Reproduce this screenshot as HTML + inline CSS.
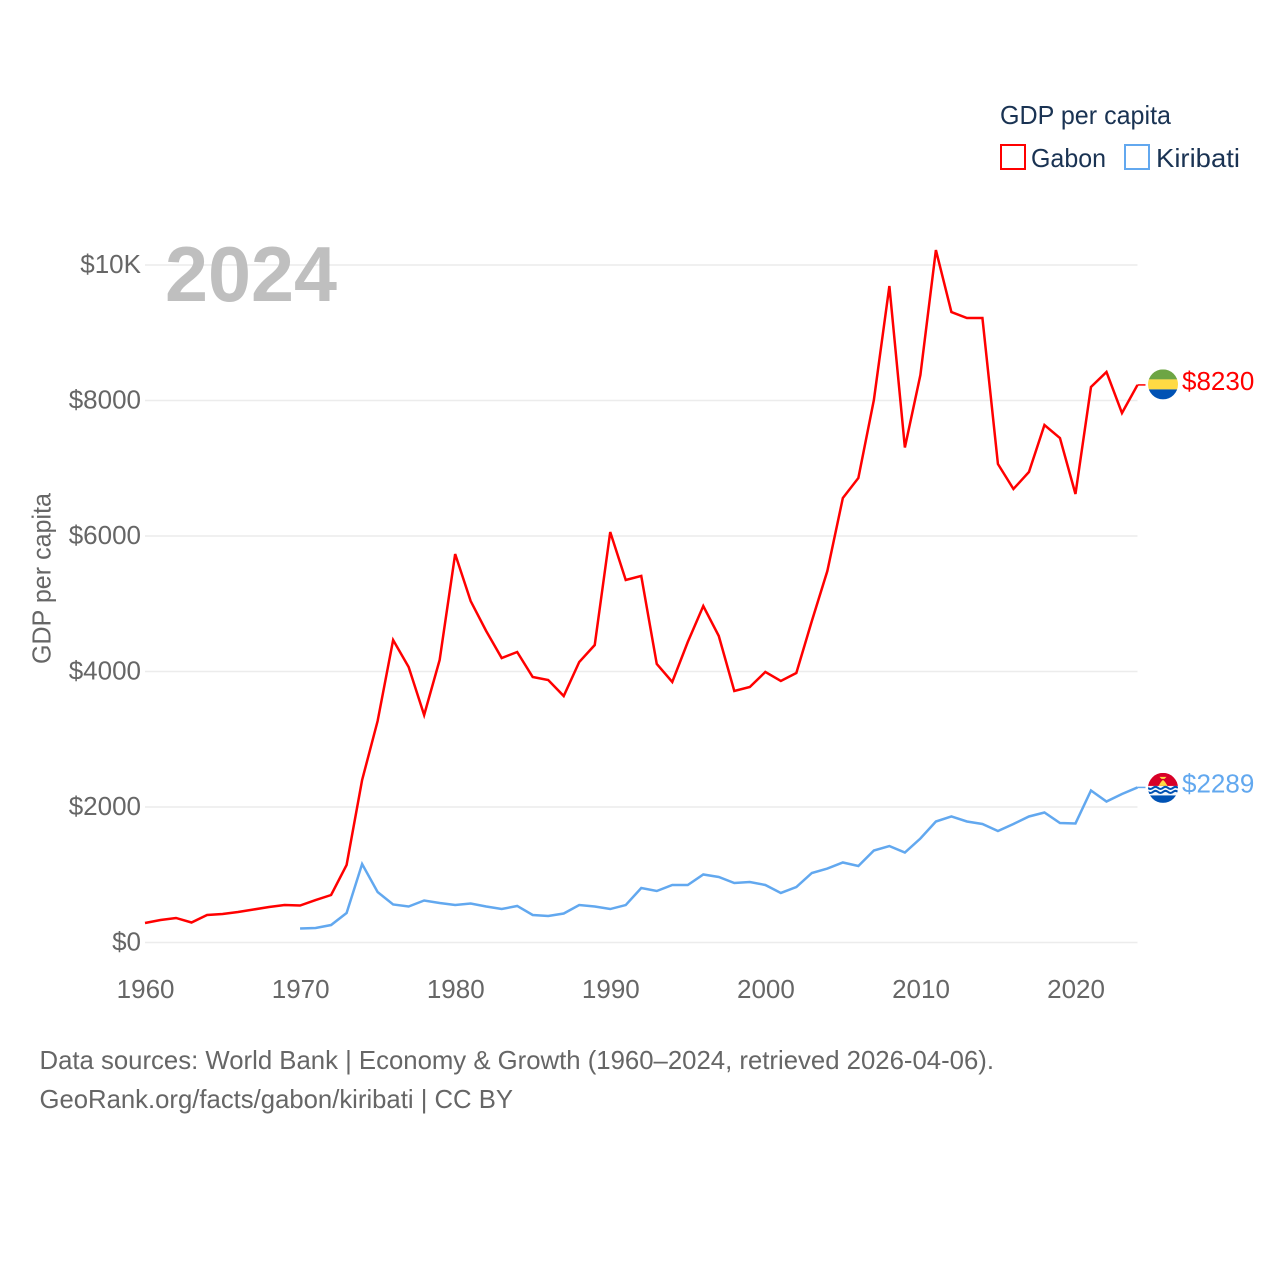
<!DOCTYPE html>
<html lang="en">
<head>
<meta charset="utf-8">
<title>GDP per capita: Gabon and Kiribati</title>
<style>
  html, body { margin: 0; padding: 0; background: #fff; }
  svg { display: block; }
  text { font-family: "Liberation Sans", sans-serif; }
</style>
</head>
<body>
<svg id="chart" xmlns="http://www.w3.org/2000/svg" width="1280" height="1280" viewBox="0 0 1280 1280">
  <defs>
    <clipPath id="flag-clip"><circle cx="0" cy="0" r="15"></circle></clipPath>
  </defs>
  <g id="grid"></g>
  <text x="165" y="301" font-size="78" font-weight="700" fill="#bfbfbf" textLength="172" lengthAdjust="spacingAndGlyphs">2024</text>
  <g id="yticks"></g>
  <g id="xticks"></g>
  <text transform="translate(50.5,578.5) rotate(-90)" text-anchor="middle" font-size="26" fill="#666666" textLength="171" lengthAdjust="spacingAndGlyphs">GDP per capita</text>
  <g id="series"></g>
  <g id="flag-gabon">
    <g clip-path="url(#flag-clip)">
      <rect x="-15" y="-15" width="30" height="10" fill="#6DA544"></rect>
      <rect x="-15" y="-5" width="30" height="10" fill="#FFDA44"></rect>
      <rect x="-15" y="5" width="30" height="10" fill="#0052B4"></rect>
    </g>
  </g>
  <g id="flag-kiribati">
    <g clip-path="url(#flag-clip)">
      <rect x="-15" y="-15" width="30" height="15" fill="#D80027"></rect>
      <rect x="-15" y="-2" width="30" height="17" fill="#F4F8FC"></rect>
      <path d="M-4.5,-2 L-2,-6 L0,-8 L2,-6 L4.5,-2 Z" fill="#FFDA44"></path>
      <path d="M-3.5,-11 L3.5,-11 L1.5,-9 L-1.5,-9 Z" fill="#FFDA44"></path>
      <path d="M-15,0 q2.5,2.2 5,0 t5,0 t5,0 t5,0 t5,0 t5,0" fill="none" stroke="#0052B4" stroke-width="2"></path>
      <path d="M-15,4 q2.5,2.2 5,0 t5,0 t5,0 t5,0 t5,0 t5,0" fill="none" stroke="#0052B4" stroke-width="2"></path>
      <rect x="-15" y="7.5" width="30" height="7.5" fill="#0052B4"></rect>
    </g>
  </g>
  <text id="label-gabon" x="1182" font-size="26" fill="#ff0000"></text>
  <text id="label-kiribati" x="1182" font-size="26" fill="#62a8ef"></text>

  <g>
    <text x="1000" y="124" font-size="26" fill="#1a3353" textLength="171" lengthAdjust="spacingAndGlyphs">GDP per capita</text>
    <g>
      <rect x="1001" y="145" width="24" height="24" fill="none" stroke="#ff0000" stroke-width="2"></rect>
      <text x="1031" y="167" font-size="26" fill="#1a3353" textLength="75" lengthAdjust="spacingAndGlyphs">Gabon</text>
    </g>
    <g>
      <rect x="1125" y="145" width="24" height="24" fill="none" stroke="#62a8ef" stroke-width="2"></rect>
      <text x="1156" y="167" font-size="26" fill="#1a3353" textLength="84" lengthAdjust="spacingAndGlyphs">Kiribati</text>
    </g>
  </g>

  <text x="39.5" y="1069" font-size="26" fill="#666666" textLength="954.5" lengthAdjust="spacingAndGlyphs">Data sources: World Bank | Economy &amp; Growth (1960–2024, retrieved 2026-04-06).</text>
  <text x="39.5" y="1108" font-size="26" fill="#666666" textLength="473.5" lengthAdjust="spacingAndGlyphs">GeoRank.org/facts/gabon/kiribati | CC BY</text>
</svg>
<script>
const gabonYears = [1960,1961,1962,1963,1964,1965,1966,1967,1968,1969,1970,1971,1972,1973,1974,1975,1976,1977,1978,1979,1980,1981,1982,1983,1984,1985,1986,1987,1988,1989,1990,1991,1992,1993,1994,1995,1996,1997,1998,1999,2000,2001,2002,2003,2004,2005,2006,2007,2008,2009,2010,2011,2012,2013,2014,2015,2016,2017,2018,2019,2020,2021,2022,2023,2024];
const gabonValues = [288,332,362,295,406,420,450,487,524,553,546,627,701,1144,2398,3269,4465,4066,3358,4170,5734,5040,4598,4199,4288,3919,3875,3638,4140,4391,6059,5351,5410,4111,3845,4435,4967,4524,3712,3771,3993,3860,3978,4745,5483,6561,6856,8007,9690,7306,8376,10221,9306,9218,9218,7063,6694,6945,7638,7446,6620,8199,8421,7815,8230];
const kiribatiYears = [1970,1971,1972,1973,1974,1975,1976,1977,1978,1979,1980,1981,1982,1983,1984,1985,1986,1987,1988,1989,1990,1991,1992,1993,1994,1995,1996,1997,1998,1999,2000,2001,2002,2003,2004,2005,2006,2007,2008,2009,2010,2011,2012,2013,2014,2015,2016,2017,2018,2019,2020,2021,2022,2023,2024];
const kiribatiValues = [207,214,258,435,1159,745,561,531,620,583,553,576,531,494,539,406,391,428,553,531,494,553,804,760,849,849,1004,967,878,893,849,731,819,1026,1092,1181,1129,1358,1424,1328,1535,1786,1860,1786,1749,1646,1749,1860,1919,1764,1757,2244,2081,2192,2289];
const yTickValues = [0,2000,4000,6000,8000,10000];
const yTickLabels = ["$0","$2000","$4000","$6000","$8000","$10K"];
const xTickValues = [1960,1970,1980,1990,2000,2010,2020];
const xTickLabels = ["1960","1970","1980","1990","2000","2010","2020"];

const NS = "http://www.w3.org/2000/svg";
const xScale = function (year) { return 145 + (year - 1960) * (1137.5 - 145) / 64; };
const yScale = function (value) { return 942.5 - value * (942.5 - 265) / 10000; };

const gridGroup = document.getElementById("grid");
const yTickGroup = document.getElementById("yticks");
yTickValues.forEach(function (value, i) {
  const line = document.createElementNS(NS, "line");
  
  
  line.setAttribute("x1", 145);
  line.setAttribute("x2", 1137.5);
  line.setAttribute("y1", yScale(value));
  line.setAttribute("y2", yScale(value));
  line.setAttribute("stroke", "#ececec");
  line.setAttribute("stroke-width", "1.5");
  gridGroup.appendChild(line);

  const label = document.createElementNS(NS, "text");
  
  
  label.setAttribute("x", 141);
  label.setAttribute("y", yScale(value) + 8);
  label.setAttribute("text-anchor", "end");
  label.setAttribute("font-size", "26");
  label.setAttribute("fill", "#666666");
  label.textContent = yTickLabels[i];
  yTickGroup.appendChild(label);
});

const xTickGroup = document.getElementById("xticks");
xTickValues.forEach(function (year, i) {
  const label = document.createElementNS(NS, "text");
  
  
  label.setAttribute("x", xScale(year) + 0.6);
  label.setAttribute("y", 998);
  label.setAttribute("text-anchor", "middle");
  label.setAttribute("font-size", "26");
  label.setAttribute("fill", "#666666");
  label.textContent = xTickLabels[i];
  xTickGroup.appendChild(label);
});

const seriesGroup = document.getElementById("series");
function drawSeries(years, values, color, lineName, connectorName) {
  const pts = years.map(function (year, i) {
    return xScale(year).toFixed(2) + "," + yScale(values[i]).toFixed(2);
  });
  const poly = document.createElementNS(NS, "polyline");
  
  
  poly.setAttribute("points", pts.join(" "));
  poly.setAttribute("fill", "none");
  poly.setAttribute("stroke", color);
  poly.setAttribute("stroke-width", "2.5");
  poly.setAttribute("stroke-linejoin", "miter");
  seriesGroup.appendChild(poly);

  const lastX = xScale(years[years.length - 1]);
  const lastY = yScale(values[values.length - 1]);
  const connector = document.createElementNS(NS, "line");
  
  
  connector.setAttribute("x1", lastX);
  connector.setAttribute("x2", lastX + 8);
  connector.setAttribute("y1", lastY);
  connector.setAttribute("y2", lastY);
  connector.setAttribute("stroke", color);
  connector.setAttribute("stroke-width", "1.5");
  seriesGroup.appendChild(connector);
  return lastY;
}
const gabonEndY = drawSeries(gabonYears, gabonValues, "#ff0000", "gabon-line", "gabon-label-connector");
const kiribatiEndY = drawSeries(kiribatiYears, kiribatiValues, "#62a8ef", "kiribati-line", "kiribati-label-connector");

document.getElementById("flag-gabon").setAttribute("transform", "translate(1163," + (gabonEndY - 0.5) + ")");
document.getElementById("flag-kiribati").setAttribute("transform", "translate(1163," + (kiribatiEndY + 0.5) + ")");
const gabonLabel = document.getElementById("label-gabon");
gabonLabel.setAttribute("y", gabonEndY + 5);
gabonLabel.textContent = "$" + gabonValues[gabonValues.length - 1];
const kiribatiLabel = document.getElementById("label-kiribati");
kiribatiLabel.setAttribute("y", kiribatiEndY + 5);
kiribatiLabel.textContent = "$" + kiribatiValues[kiribatiValues.length - 1];
</script>
</body>
</html>
